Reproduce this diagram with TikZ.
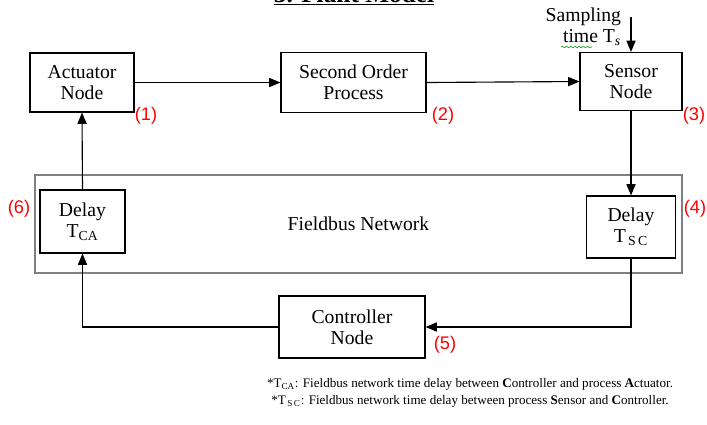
\documentclass[tikz,border=0pt]{standalone}
\usepackage{fontspec}
\setmainfont{Liberation Serif}
\newfontfamily\numfont{Liberation Sans}
\usetikzlibrary{arrows.meta, positioning, decorations.pathmorphing}

\begin{document}
\begin{tikzpicture}[x=0.025cm, y=-0.025cm,
  blk/.style={draw, line width=0.8pt, align=center, inner sep=0pt, font=\fontsize{14}{15}\selectfont},
  tag/.style={text=red, font=\numfont\fontsize{13}{14}\selectfont},
  link/.style={line width=0.8pt, -{Triangle[length=8pt,width=6.5pt]}}]
\useasboundingbox (0,0) rectangle (707,424);

% title, cut at the top edge
\node[anchor=base, font=\bfseries\fontsize{18}{20}\selectfont] (title) at (354,2) {\underline{3. Plant Model}};

% the network
\node[draw=gray, line width=0.9pt, minimum width=16.175cm, minimum height=2.45cm,
      font=\fontsize{14}{15}\selectfont] (net) at (358.5,224) {Fieldbus Network};

% blocks
\node[blk, minimum width=2.6cm, minimum height=1.475cm] (act) at (82,82.5) {Actuator\\Node};
\node[blk, minimum width=3.625cm, minimum height=1.5cm] (proc) at (353.5,82.5) {Second Order\\Process};
\node[blk, minimum width=2.55cm, minimum height=1.45cm] (sens) at (631,81.5) {Sensor\\Node};
\node[blk, fill=white, minimum width=2.225cm, minimum height=1.55cm] (dlysc) at (631,227) {Delay\\T\textsubscript{\,S\,C}};
\node[blk, minimum width=3.65cm, minimum height=1.55cm] (ctrl) at (352,327) {Controller\\Node};
\node[blk, fill=white, minimum width=2.125cm, minimum height=1.575cm] (dlyca) at (82.5,221.5) {Delay\\T\textsubscript{CA}};

% sampling input
\node[align=right, anchor=east, font=\fontsize{14}{15}\selectfont] (samp) at (626,27) {Sampling\\time T\textsubscript{\textit{s}}};
\coordinate (s0) at (631,17);
\draw[green!60!black, line width=0.4pt, decorate, decoration={snake, amplitude=0.6pt, segment length=3pt}] (561,47) -- (592,47);

% loop
\draw[link] (act.east) -- (proc.west);
\draw[link] (proc.east) -- (sens.west);
\draw[link] (s0) -- (sens.north);
\draw[link] (sens.south) -- (dlysc.north);
\draw[link] (dlysc.south) |- (ctrl.east);
\draw[link] (ctrl.west) -| (dlyca.south);
\draw[link] (dlyca.north) -- (act.south);

% numbers
\node[tag] (n1) at (146,116) {(1)};
\node[tag] (n2) at (443,116) {(2)};
\node[tag] (n3) at (694,116) {(3)};
\node[tag] (n4) at (695,209) {(4)};
\node[tag] (n5) at (445,345) {(5)};
\node[tag] (n6) at (19,209) {(6)};

% notes
\node[align=center, font=\fontsize{9.3}{12}\selectfont] (notes) at (470,393)
  {*T\textsubscript{CA}: Fieldbus network time delay between \textbf{C}ontroller and process \textbf{A}ctuator.\\
   *T\textsubscript{\,S\,C}: Fieldbus network time delay between process \textbf{S}ensor and \textbf{C}ontroller.};
\end{tikzpicture}
\end{document}
